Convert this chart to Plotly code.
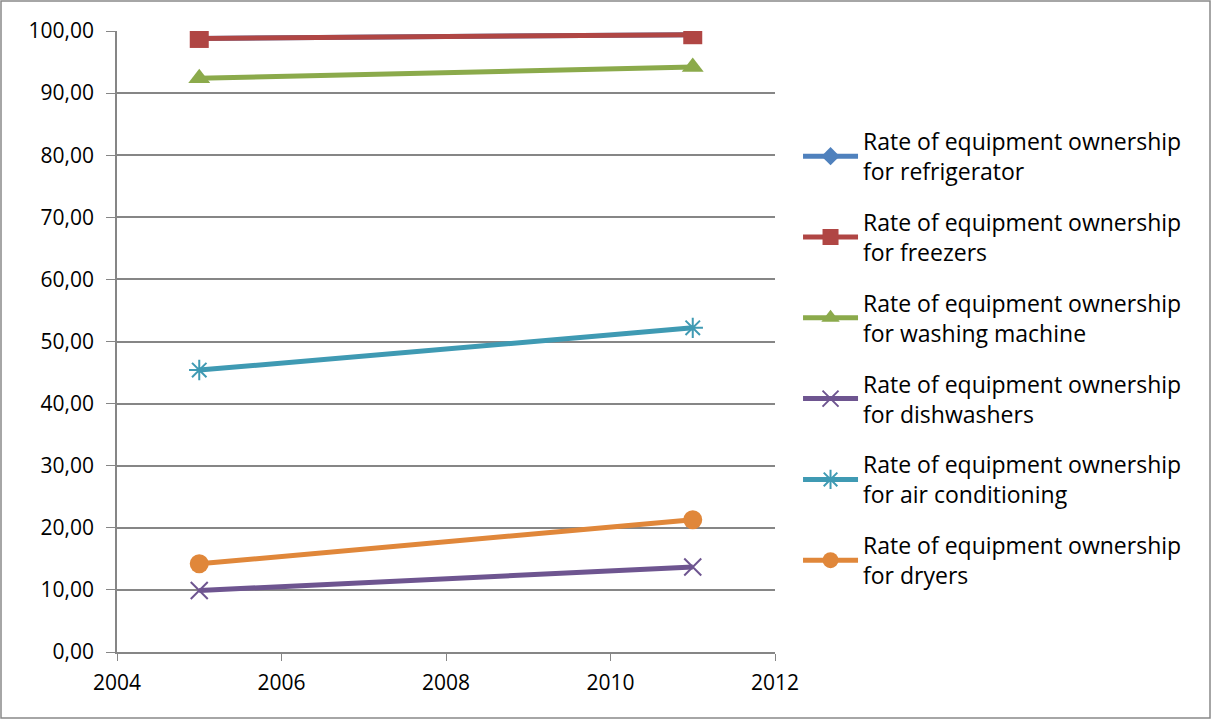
import plotly.graph_objects as go

years = [2005, 2011]
refrigerator = [98.8, 99.4]
freezers = [98.8, 99.4]
washing_machine = [92.4, 94.2]
dishwashers = [9.9, 13.7]
air_conditioning = [45.4, 52.2]
dryers = [14.2, 21.3]

names = [
    "Rate of equipment ownership<br>for refrigerator",
    "Rate of equipment ownership<br>for freezers",
    "Rate of equipment ownership<br>for washing machine",
    "Rate of equipment ownership<br>for dishwashers",
    "Rate of equipment ownership<br>for air conditioning",
    "Rate of equipment ownership<br>for dryers",
]
series = [refrigerator, freezers, washing_machine, dishwashers, air_conditioning, dryers]
colors = ["#4F81BD", "#B04644", "#8BAA4B", "#6E5590", "#3F9AB3", "#E0873A"]
symbols = ["diamond", "square", "triangle-up", "x-thin-open", "asterisk-open", "circle"]
sizes = [14, 19, 19, 17, 17, 19]

W, H = 1211, 719
L, R, T, B = 117, 1211 - 775, 31, 719 - 652

fig = go.Figure()
for i, (nm, ys) in enumerate(zip(names, series)):
    mk = dict(symbol=symbols[i], size=sizes[i], color=colors[i])
    if "open" in symbols[i]:
        mk["line"] = dict(color=colors[i], width=2)
    fig.add_trace(go.Scatter(
        x=years, y=ys, name=nm, mode="lines+markers",
        line=dict(color=colors[i], width=5),
        marker=mk, legendgroup=str(i),
    ))

pw, ph = W - L - R, H - T - B
fig.add_shape(type="rect", xref="paper", yref="paper",
              x0=-(L - 1) / pw, x1=(pw + R - 1) / pw,
              y0=-(B - 1) / ph, y1=(ph + T - 1) / ph,
              line=dict(color="#898989", width=1.5))

fig.update_layout(
    width=W, height=H,
    margin=dict(l=L, r=R, t=T, b=B, autoexpand=False),
    paper_bgcolor="white", plot_bgcolor="white",
    separators=", ",
    font=dict(family="Open Sans, sans-serif", size=21, color="#000000"),
    showlegend=True,
    legend=dict(x=1.035, y=0.857, xanchor="left", yanchor="top",
                font=dict(size=23), tracegroupgap=18, itemwidth=55,
                bgcolor="rgba(0,0,0,0)"),
    xaxis=dict(range=[2004, 2012], tickvals=[2004, 2006, 2008, 2010, 2012],
               showgrid=False, showline=True, linecolor="#868686", linewidth=1.5,
               ticks="outside", ticklen=7, tickcolor="#868686", zeroline=False,
               ticklabelstandoff=4, tickfont=dict(size=21)),
    yaxis=dict(range=[0, 100], dtick=10, tickformat=".2f",
               showgrid=True, gridcolor="#868686", gridwidth=1.5,
               showline=True, linecolor="#868686", linewidth=1.5,
               ticks="outside", ticklen=9, tickcolor="#868686", zeroline=False,
               ticklabelstandoff=8, tickfont=dict(size=21)),
)
fig.write_html("out.html")
